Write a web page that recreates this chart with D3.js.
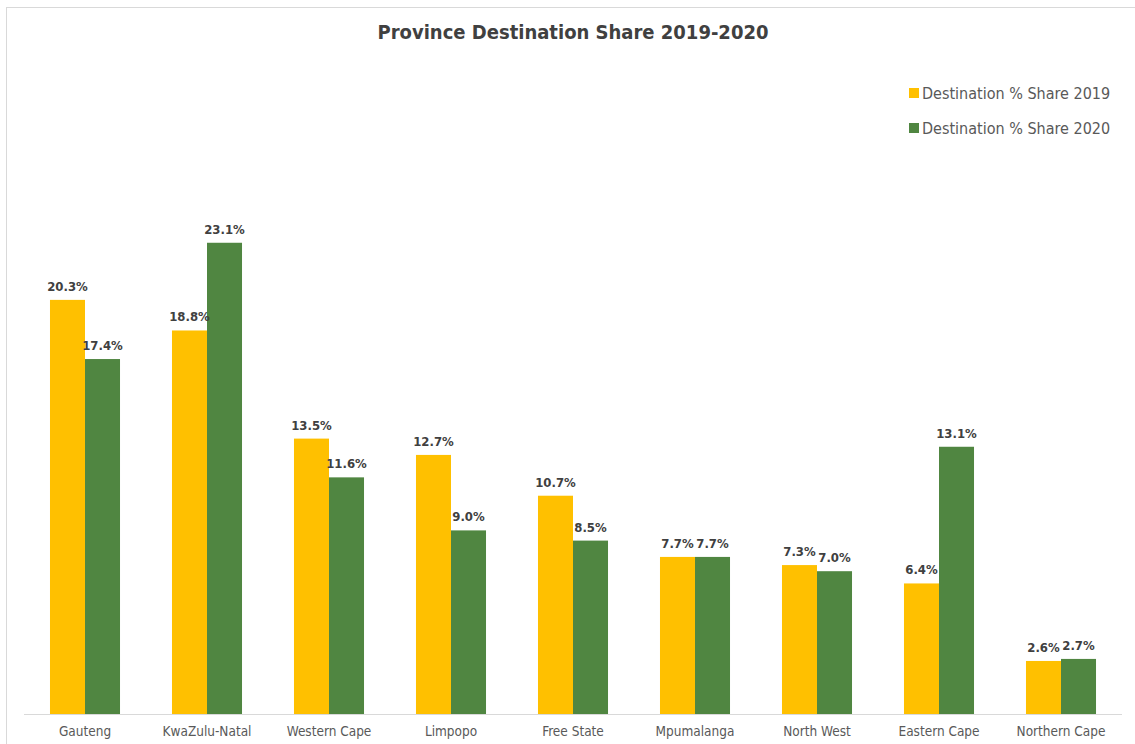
<!DOCTYPE html>
<html>
<head>
<meta charset="utf-8">
<script src="https://cdn.jsdelivr.net/npm/d3@7"></script>
<style>
  body { margin: 0; background: #fff; }
  text { font-family: "DejaVu Sans Condensed", "DejaVu Sans", sans-serif; }
</style>
</head>
<body>
<div id="chart"></div>
<script>
// data
const provinces = ["Gauteng", "KwaZulu-Natal", "Western Cape", "Limpopo", "Free State",
  "Mpumalanga", "North West", "Eastern Cape", "Northern Cape"];
const share2019 = [20.3, 18.8, 13.5, 12.7, 10.7, 7.7, 7.3, 6.4, 2.6];
const share2020 = [17.4, 23.1, 11.6, 9.0, 8.5, 7.7, 7.0, 13.1, 2.7];
const seriesNames = ["Destination % Share 2019", "Destination % Share 2020"];
const colors = ["#FFC000", "#508641"];

const width = 1135, height = 744;

const svg = d3.select("#chart").append("svg")
  .attr("width", width)
  .attr("height", height);

// chart border
svg.append("rect")
  .attr("x", 6.5).attr("y", 7.5)
  .attr("width", 1140).attr("height", 760)
  .attr("fill", "none")
  .attr("stroke", "#d9d9d9");

const x0 = d3.scaleBand().domain(provinces).range([24, 1122])
  .paddingInner(0.426).paddingOuter(0.213);
const x1 = d3.scaleBand().domain([0, 1]).range([0, x0.bandwidth()]);
const y = d3.scaleLinear().domain([0, 25]).range([714, 204]);

const rows = provinces.map((p, i) => ({ name: p, vals: [share2019[i], share2020[i]] }));

const groups = svg.selectAll("g.grp")
  .data(rows)
  .enter().append("g")
  .attr("class", "grp")
  .attr("transform", d => "translate(" + x0(d.name) + ",0)");

groups.selectAll("rect")
  .data(d => d.vals.map((v, k) => ({ v: v, k: k })))
  .enter().append("rect")
  .attr("x", d => x1(d.k))
  .attr("y", d => y(d.v))
  .attr("width", x1.bandwidth())
  .attr("height", d => y(0) - y(d.v))
  .attr("fill", d => colors[d.k]);

groups.selectAll("text.lbl")
  .data(d => d.vals.map((v, k) => ({ v: v, k: k })))
  .enter().append("text")
  .attr("class", "lbl")
  .attr("x", d => x1(d.k) + x1.bandwidth() / 2)
  .attr("y", d => y(d.v) - 9)
  .attr("text-anchor", "middle")
  .attr("font-size", "13px")
  .attr("font-weight", "bold")
  .attr("fill", "#404040")
  .text(d => d.v.toFixed(1) + "%");

// x axis
const xAxis = svg.append("g")
  .attr("transform", "translate(0," + y(0) + ")")
  .call(d3.axisBottom(x0).tickSize(0).tickPadding(12));
xAxis.select(".domain").attr("stroke", "#d9d9d9").attr("d", "M24,0.5H1122");
xAxis.selectAll("text")
  .attr("font-size", "13.5px")
  .attr("fill", "#595959")
  .style("font-family", "'DejaVu Sans Condensed', 'DejaVu Sans', sans-serif");

// title
svg.append("text")
  .attr("x", 573).attr("y", 39)
  .attr("text-anchor", "middle")
  .attr("font-size", "20px")
  .attr("font-weight", "bold")
  .attr("fill", "#404040")
  .text("Province Destination Share 2019-2020");

// legend
const legend = svg.selectAll("g.leg")
  .data(seriesNames)
  .enter().append("g")
  .attr("class", "leg")
  .attr("transform", (d, i) => "translate(909," + (93 + i * 35) + ")");
legend.append("rect")
  .attr("x", 0).attr("y", -5)
  .attr("width", 10).attr("height", 10)
  .attr("fill", (d, i) => colors[i]);
legend.append("text")
  .attr("x", 13).attr("y", 6)
  .attr("font-size", "16px")
  .attr("fill", "#595959")
  .text(d => d);
</script>
</body>
</html>
